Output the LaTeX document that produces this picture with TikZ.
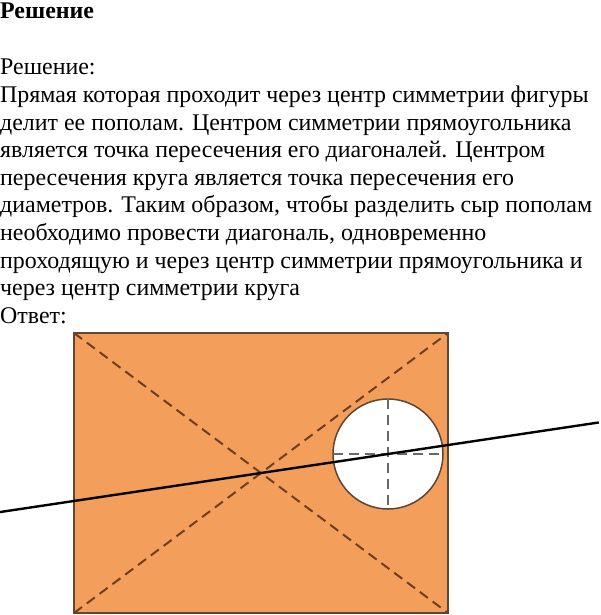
\documentclass[tikz,border=0pt]{standalone}
\usepackage{fontspec}
\setmainfont{Liberation Serif}
\usetikzlibrary{calc}

\definecolor{cheese}{RGB}{244,158,92}
\definecolor{crust}{RGB}{95,70,50}
\definecolor{cutline}{RGB}{110,62,30}
\definecolor{holeline}{RGB}{105,105,105}

\begin{document}
\begin{tikzpicture}[x=1pt,y=-1pt,
  txt/.style={inner sep=0pt, anchor=north west, align=left,
    font=\fontsize{23.9}{27.6}\selectfont},
  diag/.style={cutline, dashed, dash pattern=on 10pt off 6pt, line width=2pt},
  cross/.style={holeline, dashed, dash pattern=on 10pt off 6pt, line width=2pt}]
  \pgfmathsetmacro{\RectL}{74}
  \pgfmathsetmacro{\RectT}{333}
  \pgfmathsetmacro{\RectR}{448}
  \pgfmathsetmacro{\RectB}{613}
  \pgfmathsetmacro{\CircR}{55}
  \useasboundingbox (0,0) rectangle (600,615);

  % text
  \node[txt, font=\bfseries\fontsize{23.9}{27.6}\selectfont] (title) at (0,3) {Решение};
  \node[txt] (body) at (0,59) {Решение:\\
    Прямая которая проходит через центр симметрии фигуры\\
    делит ее пополам. Центром симметрии прямоугольника\\
    является точка пересечения его диагоналей. Центром\\
    пересечения круга является точка пересечения его\\
    диаметров. Таким образом, чтобы разделить сыр пополам\\
    необходимо провести диагональ, одновременно\\
    проходящую и через центр симметрии прямоугольника и\\
    через центр симметрии круга\\
    Ответ:};

  % cheese
  \coordinate (NW) at (\RectL,\RectT);
  \coordinate (NE) at (\RectR,\RectT);
  \coordinate (SW) at (\RectL,\RectB);
  \coordinate (SE) at (\RectR,\RectB);
  \coordinate (RectC) at ($(NW)!0.5!(SE)$);
  \coordinate (CircC) at (388,454);

  \fill[cheese, even odd rule] (NW) rectangle (SE) (CircC) circle (\CircR);
  \draw[crust, line width=1.5pt] (NW) rectangle (SE);
  \draw[crust, line width=1.5pt] (CircC) circle (\CircR);

  % diagonals
  \draw[diag] (NW) -- (SE);
  \draw[diag] (SW) -- (NE);

  % diameters of the hole
  \draw[cross] ($(CircC)+(-\CircR,0)$) -- ($(CircC)+(\CircR,0)$);
  \draw[cross] ($(CircC)+(0,-\CircR)$) -- ($(CircC)+(0,\CircR)$);

  % the cut
  \draw[black, line width=2.4pt] ($(RectC)!-2.06!(CircC)$) -- ($(RectC)!2.66!(CircC)$);
\end{tikzpicture}
\end{document}
